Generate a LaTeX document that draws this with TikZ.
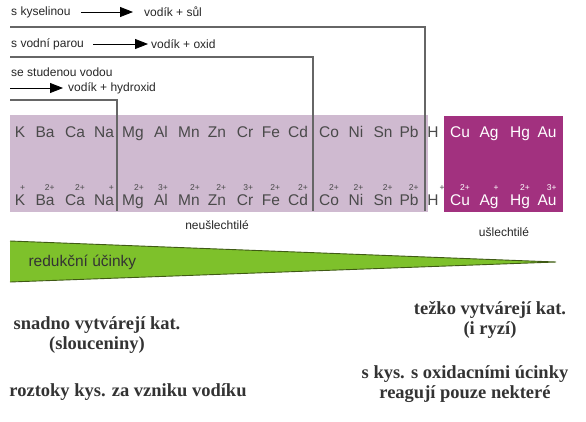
\documentclass[tikz,border=0pt]{standalone}
\usepackage{fontspec}
\setmainfont{Liberation Sans}
\newfontfamily\notefont{Liberation Serif}
\usepackage{tikz}
\usetikzlibrary{positioning, arrows.meta, calc}
\definecolor{paleviolet}{HTML}{CFBAD0}
\definecolor{noblepurple}{HTML}{A2317F}
\definecolor{leafgreen}{HTML}{7EC12B}
\definecolor{olivedark}{HTML}{3F5A14}
\definecolor{linegray}{HTML}{666666}
\definecolor{textgray}{HTML}{4A4A4A}

\begin{document}
\begin{tikzpicture}[x=1pt, y=-1pt,
    reaction/.style={font=\fontsize{12}{14}\selectfont, text=black!85, inner sep=1pt, anchor=west},
    metal/.style={font=\fontsize{15.5}{17}\selectfont, text=textgray, inner sep=0pt, anchor=base},
    charge/.style={font=\fontsize{8.5}{9}\selectfont, inner sep=0pt, anchor=south east},
    group/.style={font=\fontsize{12}{14}\selectfont, text=black!85},
    bracket/.style={draw=linegray, line width=1.1pt},
    toarrow/.style={-{Triangle[length=13pt,width=10pt]}, line width=0.8pt},
    note/.style={font=\notefont\bfseries\fontsize{18.5}{20}\selectfont, text=black!80, align=center}]
    \useasboundingbox (0,0) rectangle (586,421);

    % activity series boxes
    \fill[paleviolet] (10,115) rectangle (428,212);
    \fill[noblepurple] (444,116) rectangle (563,212);

    % reactions with acid, steam and cold water
    \node[reaction] (acid) at (10,12) {s kyselinou};
    \node[reaction] (salt) at (143,12) {vodík + sůl};
    \draw[toarrow] ([xshift=9pt]acid.east) -- ([xshift=-10pt]salt.west);

    \node[reaction] (steam) at (10,44) {s vodní parou};
    \node[reaction] (oxide) at (150,44) {vodík + oxid};
    \draw[toarrow] ([xshift=8pt]steam.east) -- ([xshift=-2pt]oxide.west);

    \node[reaction] (water) at (10,72) {se studenou vodou};
    \node[reaction] (hydroxide) at (67,88) {vodík + hydroxid};
    \coordinate (waterstart) at (10,88);
    \draw[toarrow] (waterstart) -- ([xshift=-4pt]hydroxide.west);

    \draw[bracket] (10,27) -| (425,211);
    \draw[bracket] (10,57) -| (313,211);
    \draw[bracket] (10,100) -| (117,211);

    % base metals
    \foreach \sym/\xpos/\chg in {K/20/+, Ba/45/2+, Ca/75/2+, Na/104/+, Mg/133/2+,
        Al/161/3+, Mn/189/2+, Zn/217/2+, Cr/245/3+, Fe/271/2+, Cd/298/2+,
        Co/329/2+, Ni/356/2+, Sn/383/2+, Pb/409/2+}{
        \node[metal] (top-\sym) at (\xpos,137) {\sym};
        \node[metal] (ion-\sym) at (\xpos,205) {\sym};
        \node[charge, text=textgray] at ([yshift=3pt]ion-\sym.north east) {\chg};
    }

    % hydrogen
    \node[metal] (top-H) at (433,137) {H};
    \node[metal] (ion-H) at (433,205) {H};
    \node[charge, text=textgray] at ([xshift=6pt, yshift=3pt]ion-H.north east) {+};

    % noble metals
    \foreach \sym/\xpos/\chg in {Cu/460/2+, Ag/489/+, Hg/520/2+, Au/547/3+}{
        \node[metal, text=white] (top-\sym) at (\xpos,137) {\sym};
        \node[metal, text=white] (ion-\sym) at (\xpos,205) {\sym};
        \node[charge, text=white] at ([yshift=3pt]ion-\sym.north east) {\chg};
    }

    \node[group] (base) at (217,225) {neušlechtilé};
    \node[group] (noble) at (504,232) {ušlechtilé};

    % reducing power wedge
    \fill[leafgreen] (10,241) -- (556,262) -- (10,282) -- cycle;
    \draw[olivedark, line width=0.9pt] (10,241) -- (556,262) -- (10,282);
    \node[font=\fontsize{15.5}{17}\selectfont, text=black!80, anchor=west] (reducing) at (25,262) {redukční účinky};

    % notes
    \node[note] (easy) at (97,335) {snadno vytvárejí kat.\\(slouceniny)};
    \node[note] (acidsol) at (128,392) {roztoky kys. za vzniku vodíku};
    \node[note] (hard) at (490,320) {težko vytvárejí kat.\\(i ryzí)};
    \node[note] (oxidizing) at (465,384) {s kys. s oxidacními úcinky\\reagují pouze nekteré};
\end{tikzpicture}
\end{document}
